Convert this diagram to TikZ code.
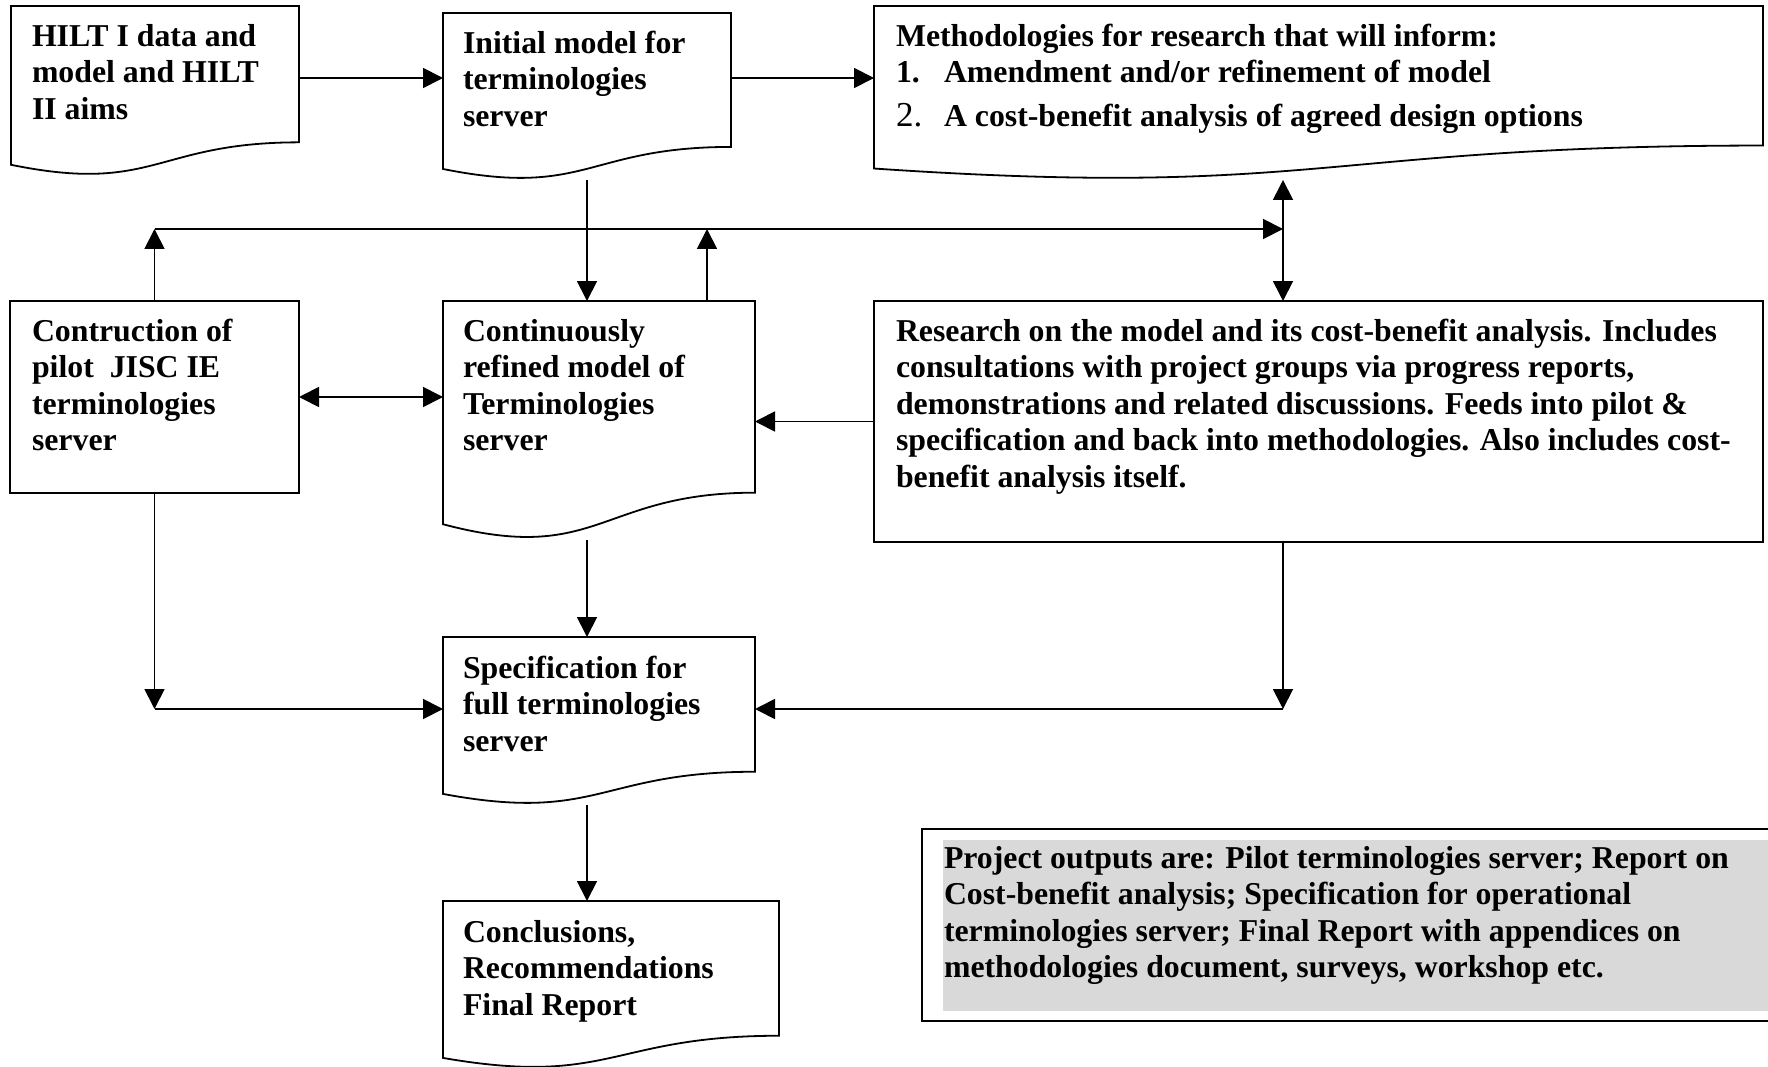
\documentclass[tikz,border=0pt]{standalone}
\usepackage{fontspec}
\setmainfont{Liberation Serif}
\usetikzlibrary{arrows.meta,calc}
\definecolor{boxgray}{HTML}{D9D9D9}
\newcommand\docpath[1]{\draw[boxline] (#1.north west) -- (#1.north east) -- ($(#1.north east)!0.802!(#1.south east)$) .. controls ($(#1.north)!0.802!(#1.south)$) and ($(#1.north)!1.1075!(#1.south)$) .. ($(#1.north west)!0.934!(#1.south west)$) -- cycle;}
\begin{document}
\begin{tikzpicture}[x=1pt,y=-1pt,
  frame/.style={anchor=north west, inner sep=0pt, outer sep=0pt, draw=none},
  boxline/.style={draw=black, line width=1.8pt, line join=miter},
  plainbox/.style={frame, draw=black, line width=1.8pt},
  txt/.style={anchor=north west, inner sep=0pt, outer sep=0pt, align=left,
    font=\fontsize{31.8}{36.6}\selectfont\bfseries},
  arr/.style={draw=black, line width=1.8pt, -{Triangle[length=20pt,width=20pt]}},
  arrtwo/.style={draw=black, line width=1.8pt, {Triangle[length=20pt,width=20pt]}-{Triangle[length=20pt,width=20pt]}}
]
\useasboundingbox (0,0) rectangle (1768,1067);

% document-shaped boxes
\node[frame, minimum width=288pt, minimum height=170pt] (hilt) at (11,6) {};
\node[frame, minimum width=288pt, minimum height=167pt] (init) at (443,13) {};
\node[frame, minimum width=889pt, minimum height=174pt] (meth) at (874,6) {};
\node[frame, minimum width=312pt, minimum height=239pt] (cont) at (443,301) {};
\node[frame, minimum width=312pt, minimum height=168pt] (spec) at (443,637) {};
\node[frame, minimum width=336pt, minimum height=168pt] (concl) at (443,901) {};
\docpath{hilt}
\docpath{init}
\docpath{meth}
\docpath{cont}
\docpath{spec}
\docpath{concl}

% plain boxes
\node[plainbox, minimum width=289pt, minimum height=192pt] (constr) at (10,301) {};
\node[plainbox, minimum width=889pt, minimum height=241pt] (res) at (874,301) {};

% outputs box
\node[frame, fill=boxgray, minimum width=830pt, minimum height=171pt] (outfill) at (943,840) {};
\node[frame, draw=black, line width=2.4pt, minimum width=870pt, minimum height=192pt] (out) at (922,829) {};

% texts
\node[txt] (hilt-t) at (32,20.4) {\strut HILT I data and\\model and HILT\\II aims};
\node[txt] (init-t) at (463,27.4) {\strut Initial model for\\terminologies\\server};
\node[txt] (meth-t) at (896,20.4) {\strut Methodologies for research that will inform:\\
  \makebox[48pt][l]{1.}Amendment and/or refinement of model\\[7pt]
  {\mdseries\fontsize{35}{36.6}\selectfont\makebox[48pt][l]{2.}}A cost-benefit analysis of agreed design options};
\node[txt] (constr-t) at (32,315.4) {\strut Contruction of\\pilot\ \ JISC IE\\terminologies\\server};
\node[txt] (cont-t) at (463,315.4) {\strut Continuously\\refined model of\\Terminologies\\server};
\node[txt] (res-t) at (896,315.4) {\strut Research on the model and its cost-benefit analysis. Includes\\
  consultations with project groups via progress reports,\\
  demonstrations and related discussions. Feeds into pilot \&\\
  specification and back into methodologies. Also includes cost-\\
  benefit analysis itself.};
\node[txt] (spec-t) at (463,652.4) {\strut Specification for\\full terminologies\\server};
\node[txt] (concl-t) at (463,916.4) {\strut Conclusions,\\Recommendations\\Final Report};
\node[txt] (out-t) at (944,842.4) {\strut Project outputs are: Pilot terminologies server; Report on\\
  Cost-benefit analysis; Specification for operational\\
  terminologies server; Final Report with appendices on\\
  methodologies document, surveys, workshop etc.};

% helper coordinates
\coordinate (r1) at (0,78);
\coordinate (bx) at (1283,229);
\coordinate (cu) at (707,229);
\coordinate (sy) at (0,709);

% connectors
\draw[arr] (hilt.east |- r1) -- (init.west |- r1);
\draw[arr] (init.east |- r1) -- (meth.west |- r1);
\draw[arr] (init.south) -- (init.south |- cont.north);
\draw[arr] (constr.north) -- (constr.north |- bx);
\draw[arr] (constr.north |- bx) -- (bx);
\draw[arr] (cu |- cont.north) -- (cu);
\draw[arrtwo] (bx |- meth.south) -- (bx |- res.north);
\draw[arrtwo] (constr.east) -- (constr.east -| cont.west);
\draw[arr] (res.west) -- (res.west -| cont.east);
\draw[arr] (constr.south) -- (constr.south |- sy);
\draw[arr] (constr.south |- sy) -- (sy -| spec.west);
\draw[arr] (bx |- res.south) -- (bx |- sy);
\draw[arr] (bx |- sy) -- (sy -| spec.east);
\draw[arr] (init.south |- cont.south) -- (init.south |- spec.north);
\draw[arr] (init.south |- spec.south) -- (init.south |- concl.north);
\end{tikzpicture}
\end{document}
